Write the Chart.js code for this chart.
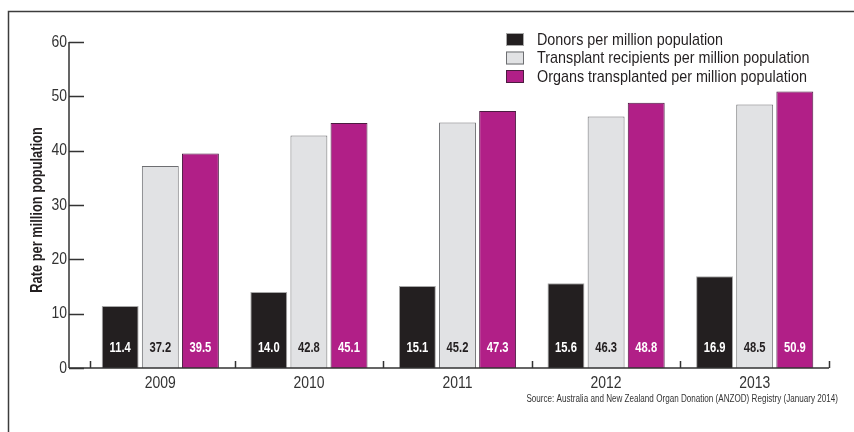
<!DOCTYPE html>
<html>
<head>
<meta charset="utf-8">
<script src="https://cdn.jsdelivr.net/npm/chart.js@4/dist/chart.umd.min.js"></script>
<style>
  html, body { margin: 0; padding: 0; background: #fff; }
  #wrap { width: 854px; height: 432px; position: relative; }
</style>
</head>
<body>
<div id="wrap"><canvas id="mycanvas" width="854" height="432"></canvas></div>
<script>
var years = ['2009', '2010', '2011', '2012', '2013'];
var donors = [11.4, 14.0, 15.1, 15.6, 16.9];
var recipients = [37.2, 42.8, 45.2, 46.3, 48.5];
var organs = [39.5, 45.1, 47.3, 48.8, 50.9];
var seriesNames = [
    'Donors per million population',
    'Transplant recipients per million population',
    'Organs transplanted per million population'
];
var yTicks = [0, 10, 20, 30, 40, 50, 60];
var yTitle = 'Rate per million population';
var sourceText = 'Source: Australia and New Zealand Organ Donation (ANZOD) Registry (January 2014)';

var FONT = '"Liberation Sans", Arial, sans-serif';
var INK = '#231f20';
var labelColors = ['#ffffff', INK, '#ffffff'];

// no narrow face installed, so squeeze the text sideways
function narrow(ctx, text, x, y, align, sx) {
    ctx.save();
    ctx.translate(x, y);
    ctx.scale(sx || 0.82, 1);
    ctx.textAlign = align;
    ctx.fillText(text, 0, 0);
    ctx.restore();
}

// axes, frame, legend, labels and source line
var decorPlugin = {
    id: 'decor',
    afterDraw: function(chart) {
        var ctx = chart.ctx;
        var x = chart.scales.x, y = chart.scales.y;
        var y0 = y.getPixelForValue(0);
        var axisX = 69;
        ctx.save();

        // frame
        ctx.strokeStyle = '#3c3c3c';
        ctx.lineWidth = 1.5;
        ctx.beginPath();
        ctx.moveTo(8.5, 432);
        ctx.lineTo(8.5, 11.5);
        ctx.lineTo(854, 11.5);
        ctx.stroke();

        // y axis
        ctx.strokeStyle = '#333';
        ctx.lineWidth = 1.5;
        ctx.beginPath();
        ctx.moveTo(axisX, y.getPixelForValue(yTicks[yTicks.length - 1]));
        ctx.lineTo(axisX, y0);
        yTicks.forEach(function(t) {
            var py = Math.round(y.getPixelForValue(t)) + 0.5;
            ctx.moveTo(axisX, py);
            ctx.lineTo(axisX + 15, py);
        });
        ctx.stroke();

        // x axis + category ticks
        var half = (x.getPixelForValue(1) - x.getPixelForValue(0)) / 2;
        ctx.beginPath();
        ctx.moveTo(axisX, y0);
        ctx.lineTo(chart.chartArea.right, y0);
        for (var i = 0; i <= years.length; i++) {
            var px = Math.round(x.getPixelForValue(0) - half + i * half * 2) + 0.5;
            if (i === 0) px += 4;
            ctx.moveTo(px, y0);
            ctx.lineTo(px, y0 - 7);
        }
        ctx.stroke();

        // tick labels
        ctx.fillStyle = '#333';
        ctx.font = '17px ' + FONT;
        ctx.textBaseline = 'middle';
        yTicks.forEach(function(t) {
            narrow(ctx, String(t), 67, y.getPixelForValue(t), 'right');
        });
        years.forEach(function(lab, j) {
            narrow(ctx, lab, x.getPixelForValue(j), 383, 'center');
        });

        // y title
        ctx.fillStyle = INK;
        ctx.font = 'bold 17px ' + FONT;
        ctx.save();
        ctx.translate(37, (chart.chartArea.top + chart.chartArea.bottom) / 2 + 5);
        ctx.rotate(-Math.PI / 2);
        narrow(ctx, yTitle, 0, 0, 'center', 0.755);
        ctx.restore();

        // value labels inside bars
        ctx.font = 'bold 14px ' + FONT;
        chart.data.datasets.forEach(function(ds, di) {
            chart.getDatasetMeta(di).data.forEach(function(bar, j) {
                ctx.fillStyle = labelColors[di];
                narrow(ctx, ds.data[j].toFixed(1), bar.x, y0 - 20, 'center', 0.8);
            });
        });

        // legend
        ctx.font = '17px ' + FONT;
        chart.data.datasets.forEach(function(ds, di) {
            var cy = 39.5 + di * 18.5;
            ctx.fillStyle = ds.backgroundColor;
            ctx.fillRect(506, cy - 6.5, 18, 13);
            ctx.strokeStyle = ds.borderColor;
            ctx.lineWidth = 1;
            ctx.strokeRect(506.5, cy - 6, 17, 12);
            ctx.fillStyle = INK;
            narrow(ctx, ds.label, 537, cy + 0.5, 'left', 0.845);
        });

        // source
        ctx.font = '10px ' + FONT;
        ctx.fillStyle = '#333';
        narrow(ctx, sourceText, 838, 399, 'right', 0.81);

        ctx.restore();
    }
};

var chartdata = {
    labels: years,
    datasets: [
        {
            label: seriesNames[0],
            data: donors,
            backgroundColor: '#231f20',
            borderColor: '#a8a8a8',
            borderWidth: 1
        },
        {
            label: seriesNames[1],
            data: recipients,
            backgroundColor: '#e1e2e4',
            borderColor: '#6d6e71',
            borderWidth: 1
        },
        {
            label: seriesNames[2],
            data: organs,
            backgroundColor: '#b11f87',
            borderColor: '#4b1c40',
            borderWidth: 1
        }
    ]
};

var ctx = document.getElementById('mycanvas');

var BarGraph = new Chart(ctx, {
    type: 'bar',
    data: chartdata,
    plugins: [decorPlugin],
    options: {
        responsive: false,
        animation: false,
        layout: { padding: { top: 42, right: 25, left: 0, bottom: 0 } },
        datasets: {
            bar: { categoryPercentage: 0.81, barPercentage: 0.92, borderSkipped: 'bottom' }
        },
        plugins: {
            legend: { display: false },
            tooltip: { enabled: false }
        },
        scales: {
            x: {
                grid: { display: false, drawTicks: false },
                border: { display: false },
                ticks: { display: false },
                afterFit: function(scale) { scale.height = 64; }
            },
            y: {
                min: 0,
                max: 60,
                grid: { display: false, drawTicks: false },
                border: { display: false },
                ticks: { display: false, stepSize: 10 },
                afterFit: function(scale) { scale.width = 86; }
            }
        }
    }
});
</script>
</body>
</html>
